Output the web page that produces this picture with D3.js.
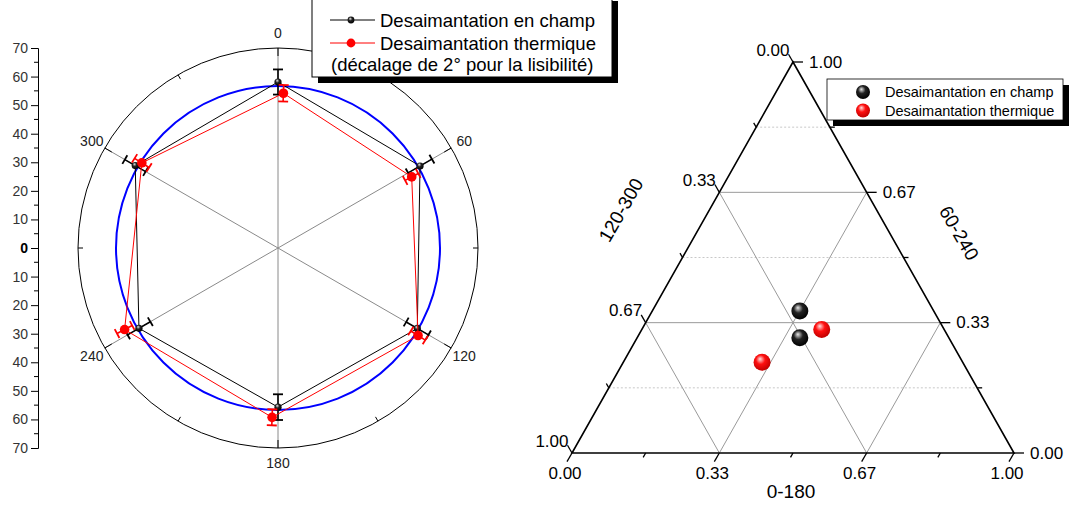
<!DOCTYPE html>
<html><head><meta charset="utf-8">
<script src="https://cdn.jsdelivr.net/npm/d3@7"></script>
<style>body{margin:0;background:#fff}svg{display:block}text{font-family:"Liberation Sans",Arial,sans-serif}</style>
</head><body><svg id="c" width="1073" height="506"></svg>
<script>
// ---------- data ----------
const polarAngles = [0, 60, 120, 180, 240, 300];
const champR      = [58.1, 57.4, 56.3, 55.7, 56.2, 57.7];
const champErr    = [4.4, 4.8, 4.5, 4.5, 4.6, 4.2];
const thermAngles = [2, 62, 122, 182, 242, 302];
const thermR      = [54.2, 53.0, 57.8, 59.3, 60.8, 56.2];
const thermErr    = [2.9, 2.6, 3.0, 2.8, 3.0, 3.0];
const fitRadius   = 56.7;
const radialTicks = [-70,-60,-50,-40,-30,-20,-10,0,10,20,30,40,50,60,70];
const angleTicks  = [0, 60, 120, 180, 240, 300];
const legendPolar = ["Desaimantation en champ", "Desaimantation thermique", "(décalage de 2° pour la lisibilité)"];

const ternSeries   = ["Desaimantation en champ", "Desaimantation thermique"];
const tern0_180    = [[0.334, 0.368], [0.407, 0.314]];   // bottom axis
const tern60_240   = [[0.363, 0.295], [0.316, 0.232]];   // right axis
const tern120_300  = [[0.303, 0.337], [0.277, 0.454]];   // left axis
const ternMajor    = [0, 1/3, 2/3, 1];
const ternMajorLbl = ["0.00", "0.33", "0.67", "1.00"];
const ternMinor    = [1/6, 1/2, 5/6];
const ternTitles   = ["0-180", "60-240", "120-300"];

// ---------- setup ----------
const svg = d3.select("#c");
const defs = svg.append("defs");
function sphere(id, c0, c1, c2) {
  const g = defs.append("radialGradient").attr("id", id).attr("cx", "45%").attr("cy", "40%").attr("r", "60%").attr("fx", "38%").attr("fy", "30%");
  g.append("stop").attr("offset", "0%").attr("stop-color", c0);
  g.append("stop").attr("offset", "45%").attr("stop-color", c1);
  g.append("stop").attr("offset", "100%").attr("stop-color", c2);
}
sphere("gBlack", "#e8e8e8", "#222", "#000");
sphere("gRed", "#ffe0e0", "#ff1010", "#c00000");

// ---------- polar ----------
const cx = 278, cy = 248;
const rs = d3.scaleLinear().domain([0, 70]).range([0, 200]);
const pol = (a, r) => [cx + rs(r) * Math.sin(a * Math.PI / 180), cy - rs(r) * Math.cos(a * Math.PI / 180)];
const P = svg.append("g");

angleTicks.forEach(a => {
  const e = pol(a, 70);
  P.append("line").attr("x1", cx).attr("y1", cy).attr("x2", e[0]).attr("y2", e[1]).attr("stroke", "#8a8a8a").attr("stroke-width", 1);
});
P.append("circle").attr("cx", cx).attr("cy", cy).attr("r", rs(70)).attr("fill", "none").attr("stroke", "#000").attr("stroke-width", 1);
d3.range(0, 360, 30).forEach(a => {
  const len = a % 60 === 0 ? 8 : 5;
  const p1 = pol(a, 70), p2 = pol(a, rs.invert(200 - len));
  P.append("line").attr("x1", p1[0]).attr("y1", p1[1]).attr("x2", p2[0]).attr("y2", p2[1]).attr("stroke", "#000");
});
angleTicks.forEach(a => {
  const p = pol(a, rs.invert(215));
  P.append("text").attr("x", p[0]).attr("y", p[1]).attr("text-anchor", "middle").attr("dominant-baseline", "central")
    .attr("font-size", 14).attr("fill", "#222").text(a);
});
P.append("circle").attr("cx", cx).attr("cy", cy).attr("r", rs(fitRadius)).attr("fill", "none").attr("stroke", "#0000ff").attr("stroke-width", 2);

function series(angles, radii, errs, color, mr, grad) {
  const pts = angles.map((a, i) => pol(a, radii[i]));
  P.append("path").attr("d", d3.line()(pts) + "Z").attr("fill", "none").attr("stroke", color).attr("stroke-width", 1);
  angles.forEach((a, i) => {
    const p1 = pol(a, radii[i] - errs[i]), p2 = pol(a, radii[i] + errs[i]);
    P.append("line").attr("x1", p1[0]).attr("y1", p1[1]).attr("x2", p2[0]).attr("y2", p2[1]).attr("stroke", color).attr("stroke-width", 1.6);
    const rad = a * Math.PI / 180, px = Math.cos(rad) * 5, py = Math.sin(rad) * 5;
    [p1, p2].forEach(q => P.append("line").attr("x1", q[0] - px).attr("y1", q[1] - py).attr("x2", q[0] + px).attr("y2", q[1] + py)
      .attr("stroke", color).attr("stroke-width", 1.8));
  });
  pts.forEach(p => P.append("circle").attr("cx", p[0]).attr("cy", p[1]).attr("r", mr).attr("fill", grad));
}
series(polarAngles, champR, champErr, "#000", 3.6, "url(#gBlack)");
series(thermAngles, thermR, thermErr, "#ff0000", 4.8, "#ff0000");

const ys = d3.scaleLinear().domain([70, -70]).range([cy - 200, cy + 200]);
const ax = svg.append("g").attr("transform", "translate(38,0)")
  .call(d3.axisLeft(ys).tickValues(radialTicks).tickSize(7).tickPadding(3).tickFormat(d => Math.abs(d)));
ax.attr("font-size", 14).attr("font-family", "Liberation Sans, Arial, sans-serif");
ax.select(".domain").attr("stroke", "#000");
ax.selectAll(".tick line").attr("stroke", "#000");
ax.selectAll(".tick text").attr("font-size", 14)
  .attr("font-weight", d => d === 0 ? "bold" : "normal").attr("fill", d => d === 0 ? "#000" : "#333");
d3.range(-65, 70, 10).forEach(v => ax.append("line").attr("x1", -4).attr("x2", 0).attr("y1", ys(v)).attr("y2", ys(v)).attr("stroke", "#000"));

// polar legend
const L = svg.append("g");
L.append("rect").attr("x", 318).attr("y", 1).attr("width", 300).attr("height", 82).attr("fill", "#000");
L.append("rect").attr("x", 312).attr("y", -5).attr("width", 300).attr("height", 82).attr("fill", "#fff").attr("stroke", "#000");
[["#000", "url(#gBlack)", 3.4, 20], ["#ff0000", "#ff0000", 4.4, 43]].forEach(([c, f, r, y], i) => {
  L.append("line").attr("x1", 330).attr("x2", 375).attr("y1", y).attr("y2", y).attr("stroke", c);
  L.append("circle").attr("cx", 351).attr("cy", y).attr("r", r).attr("fill", f);
  L.append("text").attr("x", 380).attr("y", y + 7).attr("font-size", 18.5).attr("fill", "#000").text(legendPolar[i]);
});
L.append("text").attr("x", 331).attr("y", 71).attr("font-size", 18.5).attr("fill", "#000").text(legendPolar[2]);

// ---------- ternary ----------
const BL = [572, 453], BR = [1014, 453], TP = [793, 62];
function tern(r, t) {
  const l = 1 - r - t;
  return [l * BL[0] + r * BR[0] + t * TP[0], l * BL[1] + r * BR[1] + t * TP[1]];
}
const T = svg.append("g");
ternMinor.forEach(v => {
  const a = tern(0, v), b = tern(1 - v, v);
  T.append("line").attr("x1", a[0]).attr("y1", a[1]).attr("x2", b[0]).attr("y2", b[1]).attr("stroke", "#c8c8c8").attr("stroke-dasharray", "2,2");
});
[1/3, 2/3].forEach(v => {
  const segs = [
    [tern(0, v), tern(1 - v, v)],
    [tern(v, 0), tern(v, 1 - v)],
    [tern(0, 1 - v), tern(1 - v, 0)]
  ];
  segs.forEach(([a, b]) => T.append("line").attr("x1", a[0]).attr("y1", a[1]).attr("x2", b[0]).attr("y2", b[1]).attr("stroke", "#9a9a9a"));
});
T.append("path").attr("d", d3.line()([BL, BR, TP]) + "Z").attr("fill", "none").attr("stroke", "#000").attr("stroke-width", 1.6);

const s60 = Math.sin(Math.PI / 3);
function tick(p, dir, len) {
  T.append("line").attr("x1", p[0]).attr("y1", p[1]).attr("x2", p[0] + dir[0] * len).attr("y2", p[1] + dir[1] * len).attr("stroke", "#000").attr("stroke-width", 1.3);
  return [p[0] + dir[0] * len, p[1] + dir[1] * len];
}
const fs = 17;
ternMajor.forEach((v, i) => {
  const e = tick(tern(v, 0), [-0.5, s60], 10);
  T.append("text").attr("x", e[0] - 2).attr("y", e[1] + 12).attr("text-anchor", "middle").attr("dominant-baseline", "central").attr("font-size", fs).text(ternMajorLbl[i]);
});
ternMinor.forEach(v => tick(tern(v, 0), [-0.5, s60], 5));
ternMajor.forEach((v, i) => {
  const e = tick(tern(1 - v, v), [1, 0], 10);
  T.append("text").attr("x", e[0] + 6).attr("y", e[1]).attr("dominant-baseline", "central").attr("font-size", fs).text(ternMajorLbl[i]);
});
ternMinor.forEach(v => tick(tern(1 - v, v), [1, 0], 5));
ternMajor.forEach((v, i) => {
  const e = tick(tern(0, 1 - v), [-0.5, -s60], 9);
  T.append("text").attr("x", e[0] + 1).attr("y", e[1] - 4).attr("text-anchor", "end").attr("dominant-baseline", "central").attr("font-size", fs).text(ternMajorLbl[i]);
});
ternMinor.forEach(v => tick(tern(0, 1 - v), [-0.5, -s60], 5));
T.append("text").attr("x", 791).attr("y", 498).attr("text-anchor", "middle").attr("font-size", 19).text(ternTitles[0]);
T.append("text").attr("transform", "translate(959,233) rotate(60)").attr("text-anchor", "middle").attr("dominant-baseline", "central").attr("font-size", 19).text(ternTitles[1]);
T.append("text").attr("transform", "translate(621,210) rotate(-60)").attr("text-anchor", "middle").attr("dominant-baseline", "central").attr("font-size", 19).text(ternTitles[2]);

const grads = ["url(#gBlack)", "url(#gRed)"];
ternSeries.forEach((s, si) => {
  tern0_180[si].forEach((r, i) => {
    const p = tern(r, tern60_240[si][i]);
    T.append("circle").attr("cx", p[0]).attr("cy", p[1]).attr("r", 8.5).attr("fill", grads[si]);
  });
});
T.append("rect").attr("x", 833).attr("y", 85).attr("width", 236).attr("height", 41).attr("fill", "#000");
T.append("rect").attr("x", 827).attr("y", 79).attr("width", 236).attr("height", 41).attr("fill", "#fff").attr("stroke", "#000").attr("stroke-width", 0.8);
ternSeries.forEach((s, i) => {
  const y = 92 + i * 18.5;
  T.append("circle").attr("cx", 863).attr("cy", y).attr("r", 7).attr("fill", grads[i]);
  T.append("text").attr("x", 885).attr("y", y).attr("dominant-baseline", "central").attr("font-size", 14.5).text(s);
});
</script></body></html>
